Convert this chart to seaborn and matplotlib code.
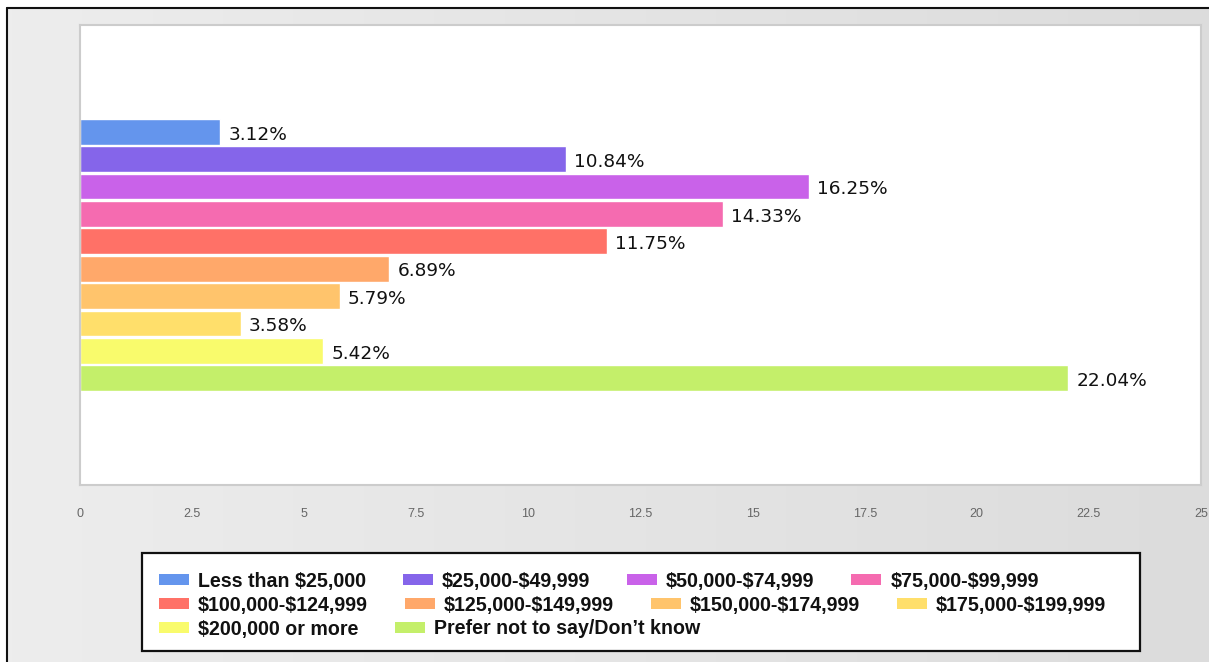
import numpy as np
import pandas as pd
import matplotlib
matplotlib.use("Agg")
import matplotlib.pyplot as plt
from matplotlib.patches import Patch, Rectangle
from matplotlib.lines import Line2D
import seaborn as sns

# Household income distribution of respondents
income_groups = [
    "Less than $25,000",
    "$25,000-$49,999",
    "$50,000-$74,999",
    "$75,000-$99,999",
    "$100,000-$124,999",
    "$125,000-$149,999",
    "$150,000-$174,999",
    "$175,000-$199,999",
    "$200,000 or more",
    "Prefer not to say/Don\u2019t know",
]
shares = [3.12, 10.84, 16.25, 14.33, 11.75, 6.89, 5.79, 3.58, 5.42, 22.04]
bar_colors = [
    "#6495ED", "#8565EA", "#C962E9", "#F56BB0", "#FF7167",
    "#FFA86A", "#FFC46C", "#FFDF6B", "#F9FB6C", "#C4EF6A",
]
x_ticks = [0, 2.5, 5, 7.5, 10, 12.5, 15, 17.5, 20, 22.5, 25]
x_tick_labels = ["0", "2.5", "5", "7.5", "10", "12.5", "15", "17.5", "20", "22.5", "25"]

df = pd.DataFrame({"income": income_groups, "share": shares})

sns.set_style("white")
plt.rcParams["font.family"] = ["DejaVu Sans"]
plt.rcParams["text.parse_math"] = False

W, H = 1209, 662
fig = plt.figure(figsize=(W / 100, H / 100), dpi=100)
fig.patch.set_facecolor("white")

# grey gradient panel behind the chart
x0, ytop = 7 / W, 1 - 8 / H
bg = fig.add_axes([x0, 0, 1 - x0, ytop])
grad = np.linspace(0, 1, 256)[None, :]
cmap = matplotlib.colors.LinearSegmentedColormap.from_list("bg", ["#ededed", "#dcdcdc"])
bg.imshow(grad, aspect="auto", cmap=cmap, extent=[0, 1, 0, 1])
bg.set_axis_off()
bg.set_zorder(-5)
fig.add_artist(Line2D([x0, x0], [0, ytop], transform=fig.transFigure, color="#111111", lw=1.5))
fig.add_artist(Line2D([x0, 1], [ytop, ytop], transform=fig.transFigure, color="#111111", lw=1.5))

# plotting area
left, right, top, bottom = 80, 1201, 25, 485
ax = fig.add_axes([left / W, 1 - bottom / H, (right - left) / W, (bottom - top) / H])
ax.set_facecolor("white")

sns.barplot(
    data=df, x="share", y="income", hue="income", palette=bar_colors,
    orient="h", dodge=False, legend=False, width=0.94, saturation=1, ax=ax,
)

for i, v in enumerate(shares):
    ax.annotate(f"{v:.2f}%", xy=(v, i), xytext=(6, -2), textcoords="offset points",
                ha="left", va="center", fontsize=13.3, color="#111111")

ax.set_xlim(0, 25)
ax.set_ylim(12.9, -3.9)
ax.set_yticks([])
ax.set_ylabel("")
ax.set_xlabel("")
ax.set_xticks(x_ticks)
ax.set_xticklabels(x_tick_labels, fontfamily="Liberation Sans")
ax.tick_params(axis="x", length=0, pad=16.5, labelsize=9, labelcolor="#666666")
for sp in ax.spines.values():
    sp.set_visible(True)
    sp.set_color("#cccccc")
    sp.set_linewidth(1.5)

# legend box with three flowing rows
lx0, lx1, ly0, ly1 = 142, 1140, 553, 651
fig.add_artist(Rectangle((lx0 / W, 1 - ly1 / H), (lx1 - lx0) / W, (ly1 - ly0) / H,
                         transform=fig.transFigure, facecolor="white",
                         edgecolor="#111111", lw=1.6, zorder=2))
rows = [[0, 1, 2, 3], [4, 5, 6, 7], [8, 9]]
row_y = [581, 605, 629]
for idx, yy in zip(rows, row_y):
    handles = [Patch(facecolor=bar_colors[k], edgecolor="none") for k in idx]
    labels = [income_groups[k] for k in idx]
    leg = fig.legend(
        handles, labels, loc="center left", bbox_to_anchor=(159 / W, 1 - yy / H),
        ncol=len(idx), frameon=False, borderpad=0, borderaxespad=0,
        handlelength=1.53, handleheight=0.51, handletextpad=0.46, columnspacing=1.88,
        prop={"family": "Liberation Sans", "weight": "bold", "size": 14.1},
        labelcolor="#111111",
    )
    leg.set_zorder(3)

fig.savefig("out.png", dpi=100)
